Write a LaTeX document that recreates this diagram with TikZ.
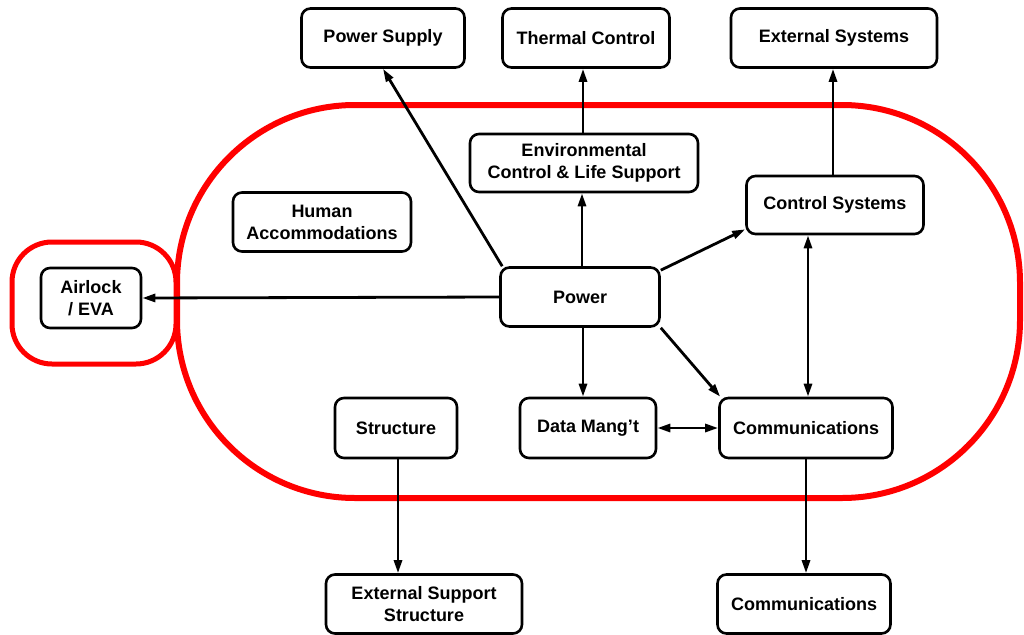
\documentclass[tikz,border=0pt]{standalone}
\usepackage{fontspec}
\setmainfont{Liberation Sans}
\usetikzlibrary{arrows.meta}
\begin{document}
\begin{tikzpicture}[x=1pt,y=-1pt,
  box/.style={draw=black, line width=2.6pt, rounded corners=9pt, fill=white, align=center,
    font=\fontsize{18}{22}\selectfont\bfseries, inner sep=2pt},
  tip/.tip={Triangle[length=13pt,width=8pt]},
  conn/.style={line width=2.8pt, -tip},
  biconn/.style={line width=2.8pt, tip-tip},
  ring/.style={draw=red, line width=6pt}]
\useasboundingbox (0,0) rectangle (1024,634);
% red outlines
\draw[ring, rounded corners=178pt] (177,105) rectangle (1020,498);
\draw[ring, line width=5pt, rounded corners=40pt] (12,242) rectangle (176,364);
% nodes
\node[box, minimum width=163pt, minimum height=59pt] (PS) at (383,38) {Power Supply};
\node[box, minimum width=167pt, minimum height=59pt] (T) at (586,38) {Thermal Control};
\node[box, minimum width=206pt, minimum height=59pt] (ES) at (834,38) {External Systems};
\node[box, minimum width=228pt, minimum height=58pt] (E) at (584,163) {Environmental\\Control \& Life Support};
\node[box, minimum width=178pt, minimum height=59pt] (H) at (322,222) {Human\\Accommodations};
\node[box, minimum width=177pt, minimum height=58pt] (CS) at (835,205) {Control Systems};
\node[box, minimum width=100pt, minimum height=60pt] (A) at (91,298) {Airlock\\/ EVA};
\node[box, minimum width=159pt, minimum height=59pt] (P) at (580,297) {Power};
\node[box, minimum width=122pt, minimum height=60pt] (S) at (396,428) {Structure};
\node[box, minimum width=136pt, minimum height=60pt] (D) at (588,428) {Data Mang't};
\node[box, minimum width=173pt, minimum height=60pt] (C1) at (806,428) {Communications};
\node[box, minimum width=196pt, minimum height=59pt] (ESS) at (424,604) {External Support\\Structure};
\node[box, minimum width=173pt, minimum height=59pt] (C2) at (804,604) {Communications};
% connectors
\draw[conn] ([xshift=3pt]P.north west) -- (PS.south);
\draw[conn] ([xshift=2pt]P.north) -- ([xshift=2pt]P.north |- E.south);
\draw[conn] ([xshift=-1pt]E.north) -- ([xshift=-1pt]E.north |- T.south);
\draw[conn] ([xshift=-2pt]CS.north) -- ([xshift=-2pt]CS.north |- ES.south);
\draw[conn] ([yshift=-4pt]P.north east) -- ([yshift=6pt]CS.south west);
\draw[conn] (P.west) -- (A.east);
\draw[conn] ([xshift=3pt]P.south) -- ([xshift=3pt]P.south |- D.north);
\draw[conn] (P.south east) -- ([xshift=2pt]C1.north west);
\draw[biconn] (D.east) -- (C1.west);
\draw[biconn] ([xshift=2pt]C1.north) -- ([xshift=2pt]C1.north |- CS.south);
\draw[conn] ([xshift=2pt]S.south) -- ([xshift=2pt]S.south |- ESS.north);
\draw[conn] (C1.south) -- (C1.south |- C2.north);
\end{tikzpicture}
\end{document}
